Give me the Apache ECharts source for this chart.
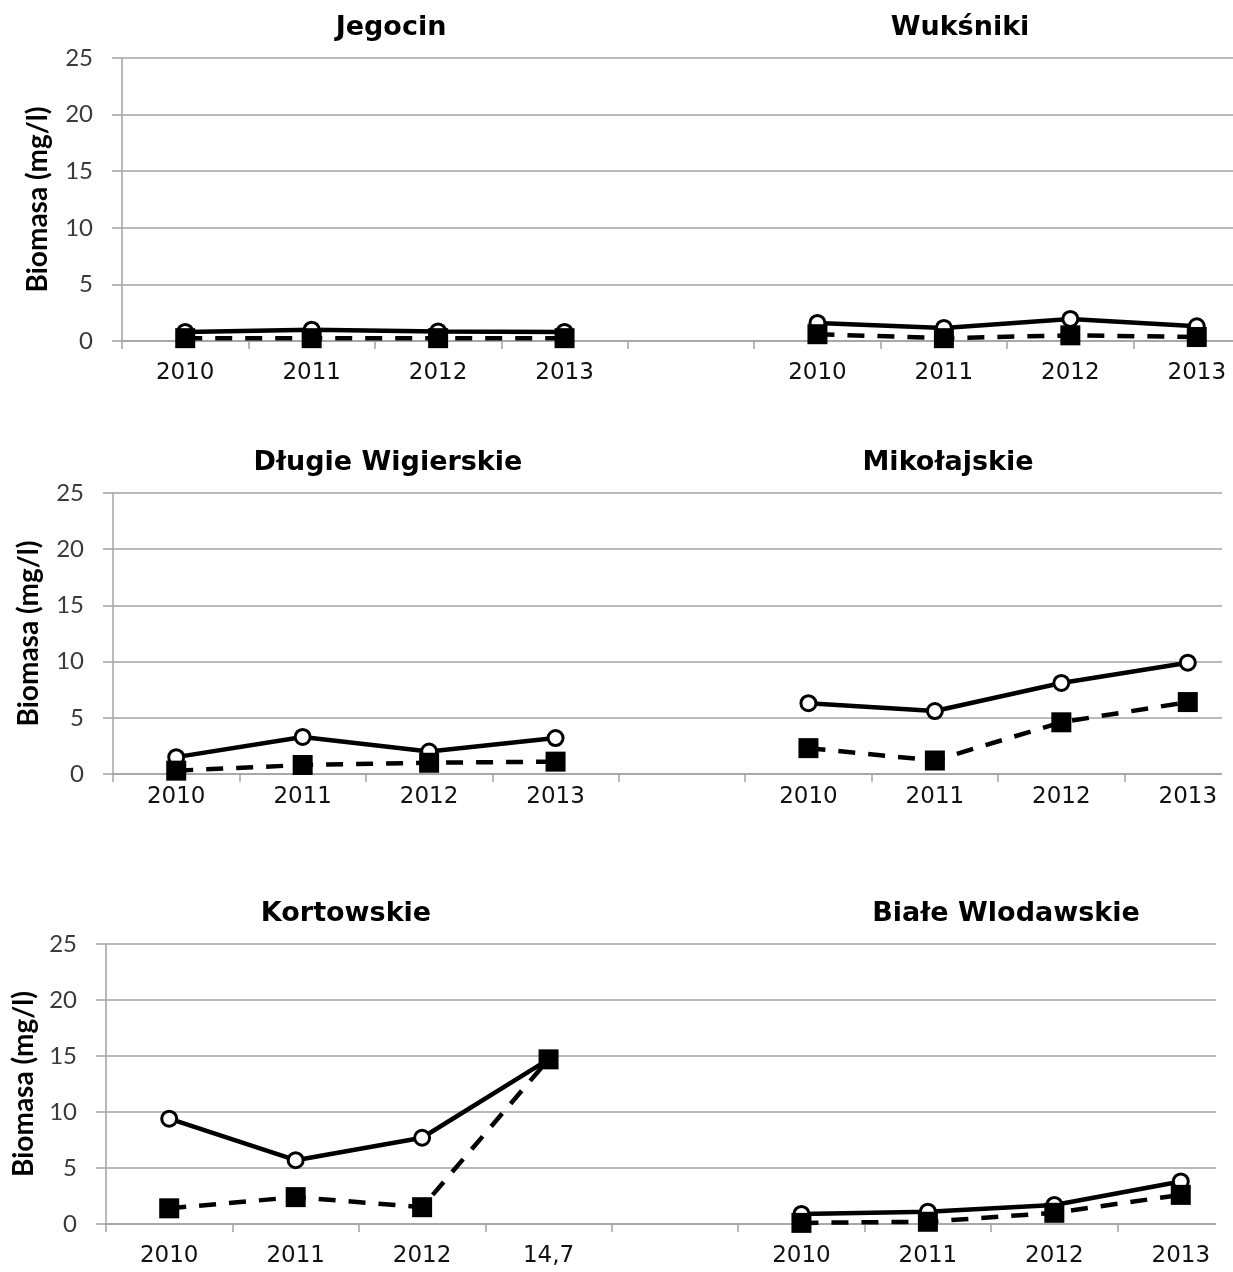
<!DOCTYPE html>
<html>
<head>
<meta charset="utf-8">
<title>Biomasa</title>
<script src="https://cdn.jsdelivr.net/npm/echarts@6/dist/echarts.min.js"></script>
<style>
  html, body { margin: 0; padding: 0; background: #fff; }
  body { width: 1233px; height: 1272px; position: relative; overflow: hidden; }
  .row { position: absolute; left: 0; }
</style>
</head>
<body>
<div id="row1" class="row" style="top:0;width:1233px;height:420px"></div>
<div id="row2" class="row" style="top:420px;width:1222px;height:440px"></div>
<div id="row3" class="row" style="top:860px;width:1216px;height:412px"></div>
<script>
// Category labels: four years per lake, a blank slot separating the two lakes in a row
const catsRow1 = ['2010', '2011', '2012', '2013', '', '2010', '2011', '2012', '2013'];
const catsRow2 = ['2010', '2011', '2012', '2013', '', '2010', '2011', '2012', '2013'];
const catsRow3 = ['2010', '2011', '2012', '14,7', '', '2010', '2011', '2012', '2013'];

// Y axis ticks (mg/l)
const yTicks = [0, 5, 10, 15, 20, 25];

// Biomass, mg/l — open circles (solid line) and filled squares (dashed line)
const jegocinCircle = [0.8, 1.0, 0.85, 0.8];
const jegocinSquare = [0.25, 0.25, 0.25, 0.25];
const wuksnikiCircle = [1.6, 1.15, 1.95, 1.3];
const wuksnikiSquare = [0.6, 0.25, 0.5, 0.35];

const dlugieCircle = [1.5, 3.3, 2.0, 3.2];
const dlugieSquare = [0.3, 0.8, 1.0, 1.1];
const mikolajskieCircle = [6.3, 5.6, 8.1, 9.9];
const mikolajskieSquare = [2.3, 1.2, 4.6, 6.4];

const kortowskieCircle = [9.4, 5.7, 7.7, 14.7];
const kortowskieSquare = [1.4, 2.4, 1.5, 14.7];
const bialeCircle = [0.9, 1.1, 1.7, 3.8];
const bialeSquare = [0.1, 0.2, 1.0, 2.6];

const GRID_COLOR = '#a3a3a3';

// join two lakes into one row series, with a gap between them
function joinRow(left, right) {
  return left.concat([null], right);
}

function makeRow(domId, cfg) {
  const chart = echarts.init(document.getElementById(domId), null, { renderer: 'canvas' });
  const option = {
    animation: false,
    backgroundColor: '#ffffff',
    title: cfg.titles.map(t => ({
      text: t.text,
      left: t.x,
      top: cfg.titleTop,
      textAlign: 'center',
      padding: 0,
      textStyle: { fontFamily: 'DejaVu Sans', fontWeight: 'bold', fontSize: 27, color: '#000' }
    })),
    grid: {
      left: cfg.left,
      top: cfg.top,
      width: 1138,
      height: cfg.height,
      containLabel: false,
      outerBoundsMode: 'none'
    },
    xAxis: {
      type: 'category',
      data: cfg.cats,
      boundaryGap: true,
      axisLine: { show: true, lineStyle: { color: GRID_COLOR, width: 1.5 } },
      axisTick: { show: true, alignWithLabel: false, length: 8, lineStyle: { color: GRID_COLOR, width: 1.5 } },
      axisLabel: {
        interval: 0,
        margin: cfg.xMargin,
        fontFamily: 'DejaVu Sans',
        fontSize: 23,
        color: '#111'
      },
      splitLine: { show: false }
    },
    yAxis: {
      type: 'value',
      min: yTicks[0],
      max: yTicks[yTicks.length - 1],
      interval: yTicks[1] - yTicks[0],
      name: 'Biomasa (mg/l)',
      nameLocation: 'middle',
      nameRotate: 90,
      nameGap: cfg.nameGap,
      nameTextStyle: { fontFamily: 'Lato', fontWeight: 'bold', fontSize: 28, color: '#000' },
      axisLine: { show: true, lineStyle: { color: GRID_COLOR, width: 1.5 } },
      axisTick: { show: true, length: 10, lineStyle: { color: GRID_COLOR, width: 1.5 } },
      axisLabel: {
        margin: 29,
        fontFamily: 'Lato',
        fontSize: 24,
        color: '#3a3a3a'
      },
      splitLine: { show: true, lineStyle: { color: GRID_COLOR, width: 1.5 } }
    },
    series: [
      {
        type: 'line',
        name: 'circle',
        data: joinRow(cfg.circleL, cfg.circleR),
        connectNulls: false,
        symbol: 'circle',
        symbolSize: 15,
        showAllSymbol: true,
        lineStyle: { color: '#000', width: 4.5 },
        itemStyle: { color: '#fff', borderColor: '#000', borderWidth: 3 },
        z: 2
      },
      {
        type: 'line',
        name: 'square',
        data: joinRow(cfg.squareL, cfg.squareR),
        connectNulls: false,
        symbol: 'rect',
        symbolSize: 20,
        showAllSymbol: true,
        lineStyle: { color: '#000', width: 4.5, type: [17, 13] },
        itemStyle: { color: '#000', borderWidth: 0 },
        z: 3
      }
    ]
  };
  chart.setOption(option);
  return chart;
}

makeRow('row1', {
  cats: catsRow1, left: 122, top: 58, height: 283, xMargin: 21, nameGap: 70, titleTop: 14,
  titles: [{ text: 'Jegocin', x: 391 }, { text: 'Wukśniki', x: 960 }],
  circleL: jegocinCircle, circleR: wuksnikiCircle,
  squareL: jegocinSquare, squareR: wuksnikiSquare
});

makeRow('row2', {
  cats: catsRow2, left: 113, top: 73, height: 281, xMargin: 12, nameGap: 70, titleTop: 29,
  titles: [{ text: 'Długie Wigierskie', x: 388 }, { text: 'Mikołajskie', x: 948 }],
  circleL: dlugieCircle, circleR: mikolajskieCircle,
  squareL: dlugieSquare, squareR: mikolajskieSquare
});

makeRow('row3', {
  cats: catsRow3, left: 106, top: 84, height: 280, xMargin: 21, nameGap: 66, titleTop: 40,
  titles: [{ text: 'Kortowskie', x: 346 }, { text: 'Białe Wlodawskie', x: 1006 }],
  circleL: kortowskieCircle, circleR: bialeCircle,
  squareL: kortowskieSquare, squareR: bialeSquare
});
</script>
</body>
</html>
